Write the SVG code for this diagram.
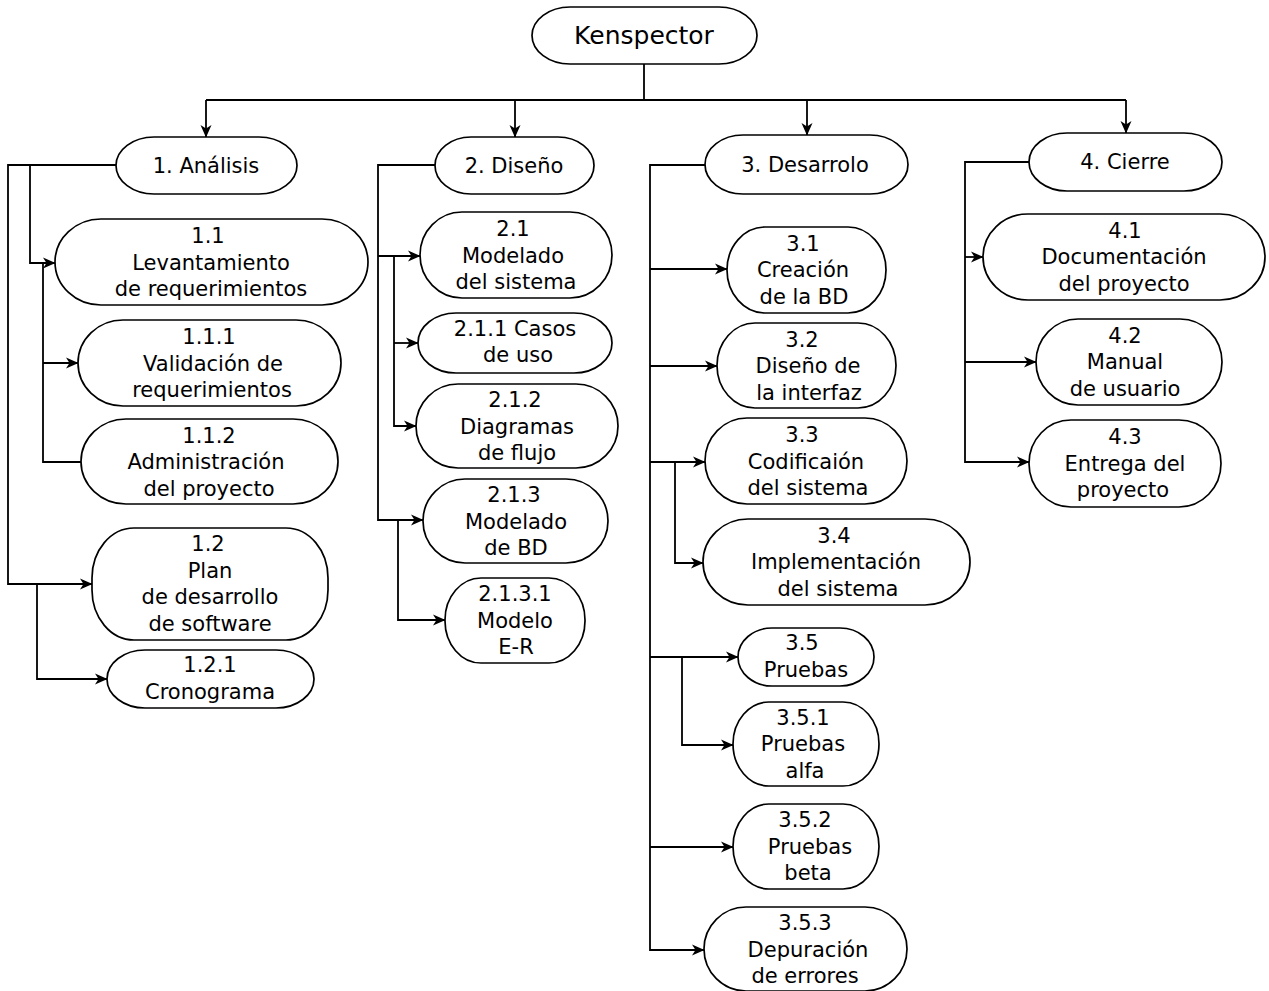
<svg xmlns="http://www.w3.org/2000/svg" width="1269" height="991" viewBox="0 0 1269 991">
<style>
.b{fill:#fff;stroke:#000;stroke-width:1.7}
.c{fill:none;stroke:#000;stroke-width:1.8}
text{font-family:"DejaVu Sans","Liberation Sans",sans-serif;font-size:21px;fill:#000;text-anchor:middle}
.k{font-size:25px}
</style>
<defs>
<marker id="a" markerUnits="userSpaceOnUse" markerWidth="14" markerHeight="13" refX="12" refY="6" orient="auto" overflow="visible">
<path d="M0,0.5 L12.5,6 L0,11.5 L3.5,6 z" fill="#000"/>
</marker>
</defs>
<rect width="1269" height="991" fill="#fff"/>
<g id="connectors">
<path class="c" d="M644,64 V100 M206,100 H1126"/>
<path class="c" d="M206,100 V137" marker-end="url(#a)"/>
<path class="c" d="M515,100 V137" marker-end="url(#a)"/>
<path class="c" d="M807,100 V135" marker-end="url(#a)"/>
<path class="c" d="M1126,100 V133" marker-end="url(#a)"/>
<path class="c" d="M116,165 H8 V584 H92" marker-end="url(#a)"/>
<path class="c" d="M30,165 V263 H55" marker-end="url(#a)"/>
<path class="c" d="M43,263 V462 H81"/>
<path class="c" d="M43,363 H78" marker-end="url(#a)"/>
<path class="c" d="M37,584 V679 H107" marker-end="url(#a)"/>
<path class="c" d="M435,165 H378 V520 H423" marker-end="url(#a)"/>
<path class="c" d="M378,256 H420" marker-end="url(#a)"/>
<path class="c" d="M394,256 V426 H416" marker-end="url(#a)"/>
<path class="c" d="M394,343 H418" marker-end="url(#a)"/>
<path class="c" d="M398,520 V620 H445" marker-end="url(#a)"/>
<path class="c" d="M705,165 H650 V950 H704" marker-end="url(#a)"/>
<path class="c" d="M650,269 H727" marker-end="url(#a)"/>
<path class="c" d="M650,366 H717" marker-end="url(#a)"/>
<path class="c" d="M650,462 H705" marker-end="url(#a)"/>
<path class="c" d="M675,462 V563 H703" marker-end="url(#a)"/>
<path class="c" d="M650,657 H738" marker-end="url(#a)"/>
<path class="c" d="M682,657 V745 H733" marker-end="url(#a)"/>
<path class="c" d="M650,847 H733" marker-end="url(#a)"/>
<path class="c" d="M1029,162 H965 V462 H1029" marker-end="url(#a)"/>
<path class="c" d="M965,257 H983" marker-end="url(#a)"/>
<path class="c" d="M965,362 H1036" marker-end="url(#a)"/>
</g>
<g id="n0"><rect class="b" x="532" y="7" width="225" height="57" rx="38" ry="28.5"/><text class="k" x="644" y="44">Kenspector</text></g>
<g id="n1"><rect class="b" x="116" y="137" width="181" height="57" rx="38" ry="28.5"/><text x="206" y="173">1. Análisis</text></g>
<g id="n11"><rect class="b" x="55" y="219" width="313" height="86" rx="46" ry="43"/><text x="208" y="243">1.1</text><text x="211" y="270">Levantamiento</text><text x="211" y="296">de requerimientos</text></g>
<g id="n111"><rect class="b" x="78" y="320" width="263" height="86" rx="45" ry="43"/><text x="209" y="344">1.1.1</text><text x="213" y="371">Validación de</text><text x="212" y="397">requerimientos</text></g>
<g id="n112"><rect class="b" x="81" y="419" width="257" height="85" rx="45" ry="42.5"/><text x="209" y="443">1.1.2</text><text x="206" y="469">Administración</text><text x="209" y="496">del proyecto</text></g>
<g id="n12"><rect class="b" x="92" y="528" width="236" height="112" rx="42" ry="50"/><text x="208" y="551">1.2</text><text x="210" y="578">Plan</text><text x="210" y="604">de desarrollo</text><text x="210" y="631">de software</text></g>
<g id="n121"><rect class="b" x="107" y="650" width="207" height="58" rx="38" ry="29"/><text x="210" y="672">1.2.1</text><text x="210" y="699">Cronograma</text></g>
<g id="n2"><rect class="b" x="435" y="137" width="159" height="57" rx="36" ry="28.5"/><text x="514" y="173">2. Diseño</text></g>
<g id="n21"><rect class="b" x="420" y="212" width="192" height="86" rx="42" ry="43"/><text x="513" y="236">2.1</text><text x="513" y="263">Modelado</text><text x="516" y="289">del sistema</text></g>
<g id="n211"><rect class="b" x="418" y="313" width="194" height="60" rx="38" ry="30"/><text x="515" y="336">2.1.1 Casos</text><text x="518" y="362">de uso</text></g>
<g id="n212"><rect class="b" x="416" y="384" width="202" height="84" rx="42" ry="42"/><text x="515" y="407">2.1.2</text><text x="517" y="434">Diagramas</text><text x="517" y="460">de flujo</text></g>
<g id="n213"><rect class="b" x="423" y="479" width="185" height="84" rx="42" ry="42"/><text x="514" y="502">2.1.3</text><text x="516" y="529">Modelado</text><text x="516" y="555">de BD</text></g>
<g id="n2131"><rect class="b" x="445" y="578" width="140" height="85" rx="36" ry="42"/><text x="515" y="601">2.1.3.1</text><text x="515" y="628">Modelo</text><text x="516" y="654">E-R</text></g>
<g id="n3"><rect class="b" x="705" y="135" width="203" height="59" rx="38" ry="29.5"/><text x="805" y="172">3. Desarrolo</text></g>
<g id="n31"><rect class="b" x="727" y="227" width="159" height="86" rx="38" ry="43"/><text x="803" y="251">3.1</text><text x="803" y="277">Creación</text><text x="804" y="304">de la BD</text></g>
<g id="n32"><rect class="b" x="717" y="323" width="179" height="85" rx="38" ry="42.5"/><text x="802" y="347">3.2</text><text x="808" y="373">Diseño de</text><text x="809" y="400">la interfaz</text></g>
<g id="n33"><rect class="b" x="705" y="418" width="202" height="86" rx="42" ry="43"/><text x="802" y="442">3.3</text><text x="806" y="469">Codificaión</text><text x="808" y="495">del sistema</text></g>
<g id="n34"><rect class="b" x="703" y="519" width="267" height="86" rx="45" ry="43"/><text x="834" y="543">3.4</text><text x="836" y="569">Implementación</text><text x="838" y="596">del sistema</text></g>
<g id="n35"><rect class="b" x="738" y="628" width="136" height="58" rx="34" ry="29"/><text x="802" y="650">3.5</text><text x="806" y="677">Pruebas</text></g>
<g id="n351"><rect class="b" x="733" y="702" width="146" height="84" rx="36" ry="42"/><text x="803" y="725">3.5.1</text><text x="803" y="751">Pruebas</text><text x="805" y="778">alfa</text></g>
<g id="n352"><rect class="b" x="733" y="804" width="146" height="85" rx="36" ry="42.5"/><text x="805" y="827">3.5.2</text><text x="810" y="854">Pruebas</text><text x="808" y="880">beta</text></g>
<g id="n353"><rect class="b" x="704" y="907" width="203" height="84" rx="42" ry="42"/><text x="805" y="930">3.5.3</text><text x="808" y="957">Depuración</text><text x="805" y="983">de errores</text></g>
<g id="n4"><rect class="b" x="1029" y="133" width="193" height="58" rx="38" ry="29"/><text x="1125" y="169">4. Cierre</text></g>
<g id="n41"><rect class="b" x="983" y="214" width="282" height="86" rx="45" ry="43"/><text x="1125" y="238">4.1</text><text x="1124" y="264">Documentación</text><text x="1124" y="291">del proyecto</text></g>
<g id="n42"><rect class="b" x="1036" y="319" width="186" height="86" rx="42" ry="43"/><text x="1125" y="343">4.2</text><text x="1125" y="369">Manual</text><text x="1125" y="396">de usuario</text></g>
<g id="n43"><rect class="b" x="1029" y="420" width="192" height="87" rx="42" ry="43.5"/><text x="1125" y="444">4.3</text><text x="1125" y="471">Entrega del</text><text x="1123" y="497">proyecto</text></g>
</svg>
